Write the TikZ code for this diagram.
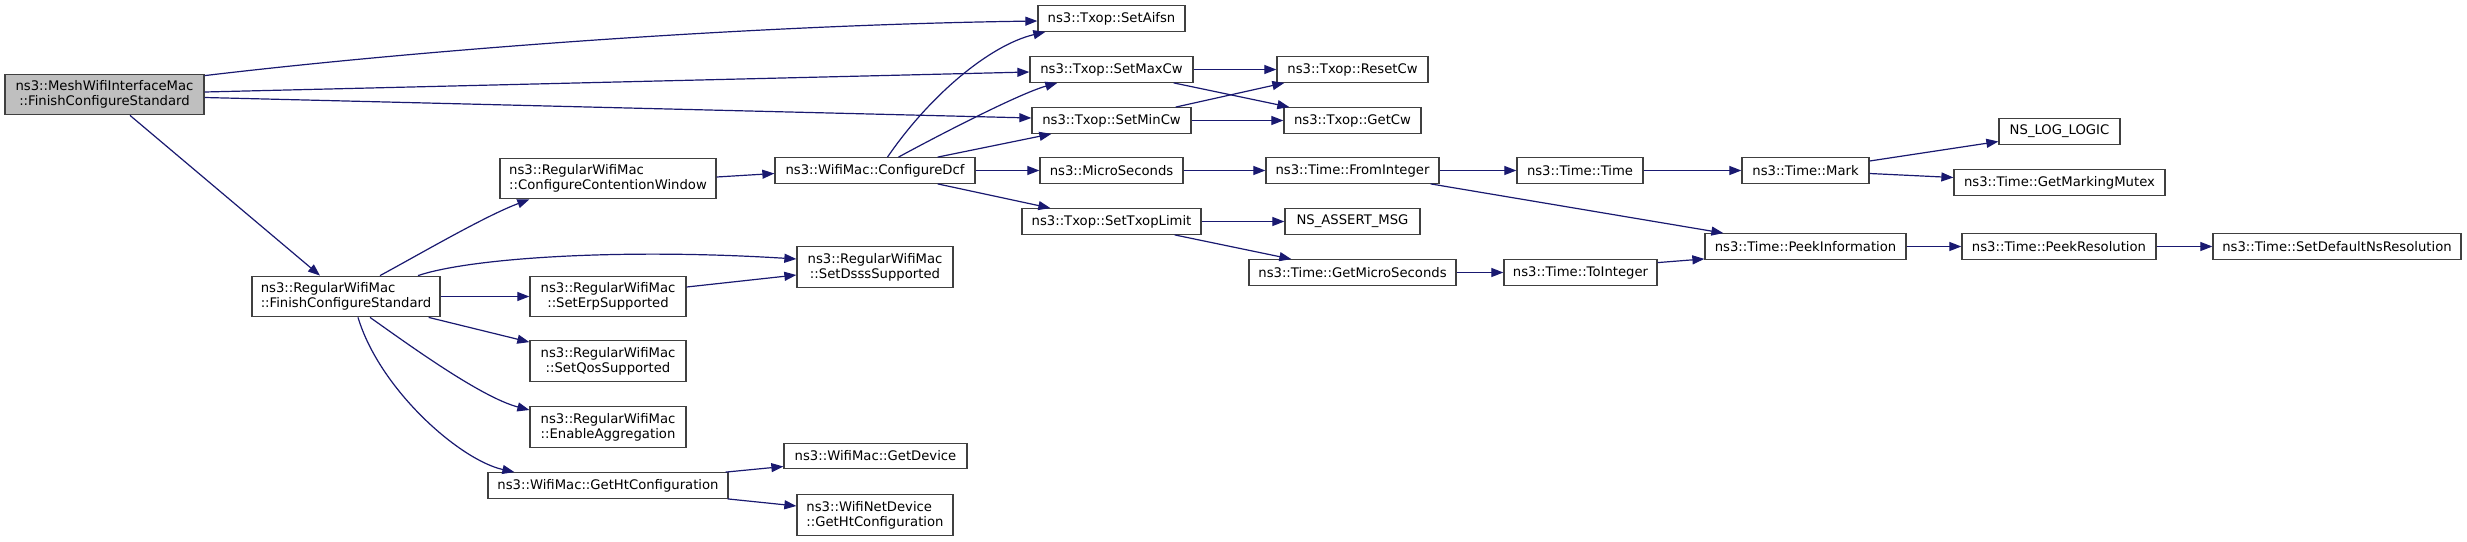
\documentclass[tikz,border=0pt]{standalone}
\usepackage{fontspec}
\setmainfont{DejaVu Sans}
\usetikzlibrary{arrows.meta,calc}
\definecolor{edgec}{HTML}{191970}
\definecolor{boxc}{HTML}{404040}
\definecolor{grayfill}{HTML}{BFBFBF}
\newlength\tla \newlength\tlb
\newcommand\twol[2]{\settowidth\tla{#1}\settowidth\tlb{#2}\ifdim\tlb>\tla\tla=\tlb\fi\makebox[\tla][l]{#1}\\#2}
\tikzset{
  fn/.style={draw=boxc, line width=1.3pt, fill=white, inner sep=0pt, font=\fontsize{13.2}{15}\selectfont, align=center, anchor=center},
  one/.style={fn, minimum height=25.5pt},
  two/.style={fn, minimum height=40.5pt},
  conn/.style={draw=edgec, line width=1.2pt, -{Triangle[length=12pt,width=9pt]}},
}
\begin{document}
\begin{tikzpicture}[x=1pt,y=-1pt]
\fill[white] (0,0) rectangle (2467,541);
\useasboundingbox (0,0) rectangle (2467,541);
% nodes
\node[two, minimum width=199pt, fill=grayfill] (A) at (104.5,94.5) {\twol{ns3::MeshWifiInterfaceMac}{::FinishConfigureStandard}};
\node[two, minimum width=188pt] (B) at (346,296.5) {\twol{ns3::RegularWifiMac}{::FinishConfigureStandard}};
\node[two, minimum width=216pt] (C) at (608,178.5) {\twol{ns3::RegularWifiMac}{::ConfigureContentionWindow}};
\node[one, minimum width=200pt] (D) at (875,170.5) {ns3::WifiMac::ConfigureDcf};
\node[one, minimum width=147pt] (E) at (1111.5,18.5) {ns3::Txop::SetAifsn};
\node[one, minimum width=163pt] (F) at (1111.5,69.5) {ns3::Txop::SetMaxCw};
\node[one, minimum width=159pt] (G) at (1111.5,120.5) {ns3::Txop::SetMinCw};
\node[one, minimum width=143pt] (H) at (1111.5,170.5) {ns3::MicroSeconds};
\node[one, minimum width=179pt] (I) at (1111.5,221.5) {ns3::Txop::SetTxopLimit};
\node[one, minimum width=151pt] (J) at (1352.5,69.5) {ns3::Txop::ResetCw};
\node[one, minimum width=137pt] (K) at (1352.5,120.5) {ns3::Txop::GetCw};
\node[one, minimum width=173pt] (L) at (1352.5,170.5) {ns3::Time::FromInteger};
\node[one, minimum width=135pt] (M) at (1352.5,221.5) {NS\_ASSERT\_MSG};
\node[one, minimum width=207pt] (N) at (1352.5,272.5) {ns3::Time::GetMicroSeconds};
\node[one, minimum width=126pt] (O) at (1580,170.5) {ns3::Time::Time};
\node[one, minimum width=153pt] (P) at (1580.5,272.5) {ns3::Time::ToInteger};
\node[one, minimum width=127pt] (Q) at (1805.5,170.5) {ns3::Time::Mark};
\node[one, minimum width=121pt] (R) at (2059.5,131.5) {NS\_LOG\_LOGIC};
\node[one, minimum width=211pt] (S) at (2059.5,182.5) {ns3::Time::GetMarkingMutex};
\node[one, minimum width=201pt] (T) at (1805.5,246.5) {ns3::Time::PeekInformation};
\node[one, minimum width=194pt] (U) at (2059,246.5) {ns3::Time::PeekResolution};
\node[one, minimum width=248pt] (V) at (2337,246.5) {ns3::Time::SetDefaultNsResolution};
\node[two, minimum width=156pt] (W) at (875,267) {\twol{ns3::RegularWifiMac}{::SetDsssSupported}};
\node[two, minimum width=156pt] (X) at (608,296.5) {\twol{ns3::RegularWifiMac}{::SetErpSupported}};
\node[two, minimum width=156pt] (Y) at (608,361) {\twol{ns3::RegularWifiMac}{::SetQosSupported}};
\node[two, minimum width=156pt] (Z) at (608,427) {\twol{ns3::RegularWifiMac}{::EnableAggregation}};
\node[one, minimum width=240pt] (AA) at (608,485.5) {ns3::WifiMac::GetHtConfiguration};
\node[one, minimum width=183pt] (AB) at (875.5,456) {ns3::WifiMac::GetDevice};
\node[two, minimum width=156pt] (AC) at (875,515) {\twol{ns3::WifiNetDevice}{::GetHtConfiguration}};
% connectors
\draw[conn] ($(A.north east)+(0,2)$) .. controls (420,50) and (750,25) .. ($(E.west)+(0,2.5)$);
\draw[conn] ($(A.east)+(0,-2.5)$) -- ($(F.west)+(0,2.5)$);
\draw[conn] ($(A.east)+(0,3)$) -- ($(G.west)+(0,-2.5)$);
\draw[conn] ($(A.south)+(25.5,0)$) -- ($(B.north)+(-26,0)$);
\draw[conn] ($(B.north)+(34,0)$) .. controls (420,254) and (485,216) .. ($(C.south west)+(30,0)$);
\draw[conn] ($(B.north)+(72,0)$) .. controls (470,258) and (620,248) .. ($(W.west)+(0,-8)$);
\draw[conn] (B.east) -- (X.west);
\draw[conn] ($(B.south east)+(-12,0)$) -- ($(Y.north west)+(0,2)$);
\draw[conn] ($(B.south)+(24,0)$) .. controls (405,342) and (480,397) .. ($(Z.west)+(0,-17)$);
\draw[conn] ($(B.south)+(12,0)$) .. controls (380,390) and (460,460) .. ($(AA.north west)+(27,0)$);
\draw[conn] ($(C.east)+(0,-1.5)$) -- ($(D.west)+(0,3)$);
\draw[conn] ($(D.north)+(12.5,0)$) .. controls (930,95) and (990,45) .. ($(E.south west)+(8,0)$);
\draw[conn] ($(D.north)+(23.5,0)$) .. controls (933.5,138) and (1018,94) .. ($(F.south west)+(28,0)$);
\draw[conn] ($(D.north east)+(-38,0)$) -- ($(G.south west)+(20,0)$);
\draw[conn] (D.east) -- (H.west);
\draw[conn] ($(D.south east)+(-38,0)$) -- ($(I.north west)+(29,0)$);
\draw[conn] (F.east) -- (J.west);
\draw[conn] ($(F.south east)+(-20,0)$) -- ($(K.north west)+(6,0)$);
\draw[conn] ($(G.north east)+(-16,0)$) -- ($(J.south west)+(8,0)$);
\draw[conn] (G.east) -- (K.west);
\draw[conn] (H.east) -- (L.west);
\draw[conn] (L.east) -- (O.west);
\draw[conn] ($(L.south east)+(-9,0)$) -- ($(T.north west)+(19,0)$);
\draw[conn] (O.east) -- (Q.west);
\draw[conn] ($(Q.east)+(0,-9.5)$) -- ($(R.west)+(0,10)$);
\draw[conn] ($(Q.east)+(0,3)$) -- ($(S.west)+(0,-5)$);
\draw[conn] (I.east) -- (M.west);
\draw[conn] ($(I.south east)+(-27,0)$) -- ($(N.north west)+(43,0)$);
\draw[conn] (N.east) -- (P.west);
\draw[conn] ($(P.north east)+(0,3.5)$) -- ($(T.south west)+(0,-1)$);
\draw[conn] (T.east) -- (U.west);
\draw[conn] (U.east) -- (V.west);
\draw[conn] ($(X.east)+(0,-9.5)$) -- ($(W.west)+(0,8)$);
\draw[conn] ($(AA.north east)+(-3,0)$) -- ($(AB.west)+(0,10.5)$);
\draw[conn] ($(AA.south east)+(-1,0)$) -- ($(AC.west)+(0,-9)$);
\end{tikzpicture}
\end{document}
